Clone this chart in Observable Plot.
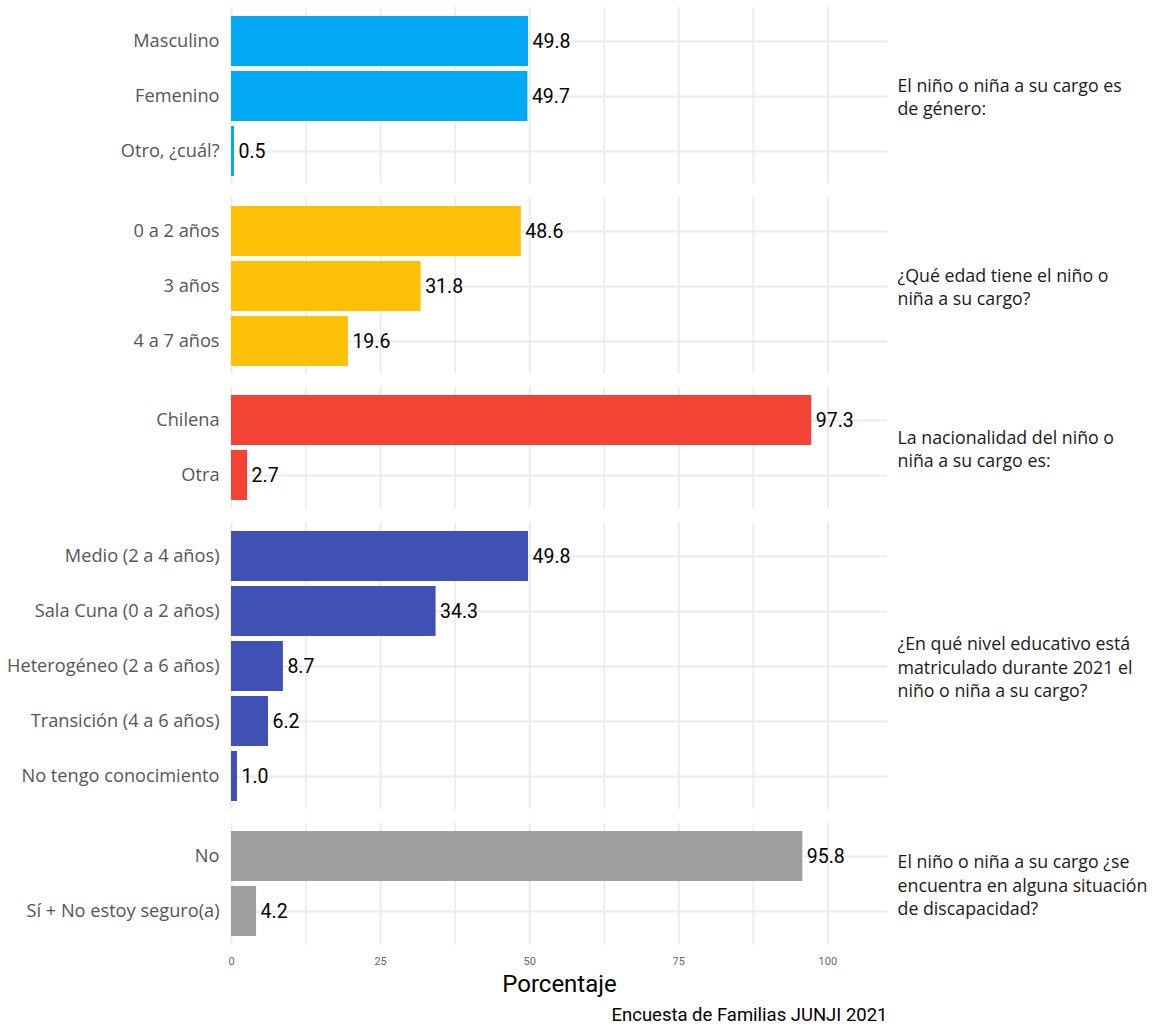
<!DOCTYPE html>
<html>
<head>
<meta charset="utf-8">
<script src="https://cdn.jsdelivr.net/npm/d3@7"></script>
<script src="https://cdn.jsdelivr.net/npm/@observablehq/plot@0.6"></script>
<style>
  html, body { margin: 0; padding: 0; background: #ffffff; }
  #chart { position: relative; width: 1161px; height: 1028px; overflow: hidden; background: #ffffff; }
  #chart svg { position: absolute; left: 0; overflow: visible; }
</style>
</head>
<body>
<div id="chart"></div>
<script>
// ---- Data ----
const genderCats = ["Masculino", "Femenino", "Otro, ¿cuál?"];
const genderVals = [49.8, 49.7, 0.5];

const ageCats = ["0 a 2 años", "3 años", "4 a 7 años"];
const ageVals = [48.6, 31.8, 19.6];

const natCats = ["Chilena", "Otra"];
const natVals = [97.3, 2.7];

const levelCats = ["Medio (2 a 4 años)", "Sala Cuna (0 a 2 años)", "Heterogéneo (2 a 6 años)", "Transición (4 a 6 años)", "No tengo conocimiento"];
const levelVals = [49.8, 34.3, 8.7, 6.2, 1.0];

const disCats = ["No", "Sí + No estoy seguro(a)"];
const disVals = [95.8, 4.2];

const questions = [
  "El niño o niña a su cargo es\nde género:",
  "¿Qué edad tiene el niño o\nniña a su cargo?",
  "La nacionalidad del niño o\nniña a su cargo es:",
  "¿En qué nivel educativo está\nmatriculado durante 2021 el\nniño o niña a su cargo?",
  "El niño o niña a su cargo ¿se\nencuentra en alguna situación\nde discapacidad?"
];
const colors = ["#03A9F4", "#FFC107", "#F44336", "#3F51B5", "#9E9E9E"];

const xTicks = [0, 25, 50, 75, 100];
const xMinor = [12.5, 37.5, 62.5, 87.5];
const xLabel = "Porcentaje";
const caption = "Encuesta de Familias JUNJI 2021";

// ---- Layout ----
const W = 1161, ML = 231, MR = 274;
const STEP = 55.2, GAP = 13.5, TOP0 = 7, BOTTOM_MARGIN = 84;
const labelFont = "'Open Sans', 'Noto Sans', sans-serif";
const numFont = "Roboto, sans-serif";
const gridColor = "#ebebeb";

const groups = [
  [genderCats, genderVals],
  [ageCats, ageVals],
  [natCats, natVals],
  [levelCats, levelVals],
  [disCats, disVals]
];

const chart = document.getElementById("chart");
let yPos = TOP0;

groups.forEach(([cats, vals], i) => {
  const isLast = i === groups.length - 1;
  const data = cats.map((c, j) => ({cat: c, value: vals[j]}));
  const innerH = STEP * (cats.length + 0.2);
  const marks = [
    Plot.gridX(xMinor, {stroke: gridColor, strokeOpacity: 1, strokeWidth: 1.6}),
    Plot.gridX(xTicks, {stroke: gridColor, strokeOpacity: 1, strokeWidth: 2}),
    Plot.gridY({stroke: gridColor, strokeOpacity: 1, strokeWidth: 2}),
    Plot.barX(data, {x: "value", y: "cat", fill: colors[i]}),
    Plot.text(data, {x: "value", y: "cat", text: d => d.value.toFixed(1), textAnchor: "start", dx: 4,
      fill: "#000000", fontSize: 19.5, fontFamily: numFont}),
    Plot.axisY({tickSize: 0, tickPadding: 12, fontSize: 18.2, fontFamily: labelFont, fill: "#555555", label: null}),
    Plot.text([questions[i]], {frameAnchor: "right", dx: 10, textAnchor: "start", lineHeight: 1.32,
      fontSize: 17.8, fontFamily: labelFont, fill: "#1A1A1A"})
  ];
  if (isLast) {
    marks.push(
      Plot.axisX(xTicks, {tickSize: 0, tickPadding: 12, fontSize: 11, fontFamily: numFont, fill: "#666666", label: null}),
      Plot.text([xLabel], {frameAnchor: "bottom", dy: 47, fontSize: 24, fontFamily: numFont, fill: "#000000"}),
      Plot.text([caption], {frameAnchor: "bottom-right", textAnchor: "end", dy: 76, fontSize: 18.5, fontFamily: numFont, fill: "#000000"})
    );
  }
  const svg = Plot.plot({
    width: W,
    height: innerH + (isLast ? BOTTOM_MARGIN : 0),
    marginLeft: ML,
    marginRight: MR,
    marginTop: 0,
    marginBottom: isLast ? BOTTOM_MARGIN : 0,
    x: {domain: [0, 110], axis: null},
    y: {domain: cats, paddingInner: 0.1, paddingOuter: 0.15, axis: null},
    style: {background: "transparent", fontFamily: labelFont, overflow: "visible"},
    marks
  });
  svg.style.top = yPos + "px";
  chart.appendChild(svg);
  yPos += innerH + GAP;
});
</script>
</body>
</html>
